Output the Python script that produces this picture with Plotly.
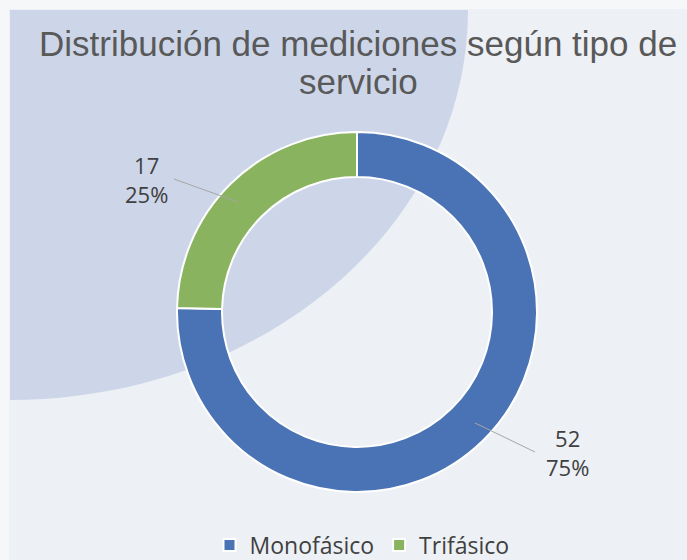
import plotly.graph_objects as go

# ---- data ----
categories = ["Monofásico", "Trifásico"]
values = [52, 17]
colors = ["#4a73b6", "#89b35e"]
title_lines = ["Distribución de mediciones según tipo de", "servicio"]

W, H = 687, 560


def px(x):
    return x / W


def py(y):
    return 1 - y / H


fig = go.Figure()

# donut centred at (357, 312) in screen pixels
cx, cy, r = 357, 312, 180
fig.add_trace(go.Pie(
    labels=categories,
    values=values,
    hole=0.75,
    sort=False,
    direction="clockwise",
    rotation=0,
    marker=dict(colors=colors, line=dict(color="#ffffff", width=2)),
    textinfo="none",
    hoverinfo="label+value+percent",
    domain=dict(x=[px(cx - r), px(cx + r)], y=[py(cy + r), py(cy - r)]),
))

# lighter strips along the top and left edges
shapes = [
    dict(type="rect", xref="paper", yref="paper", x0=0, x1=1, y0=py(9), y1=1,
         fillcolor="#f6f7f9", line=dict(width=0), layer="below"),
    dict(type="rect", xref="paper", yref="paper", x0=0, x1=px(9), y0=0, y1=1,
         fillcolor="#f6f7f9", line=dict(width=0), layer="below"),
]

# decorative quarter ellipse in the background
ex, ey, rx, ry, k = 10, 10, 458, 390, 0.5523
path = (
    f"M {px(ex)},{py(ey)} L {px(ex + rx)},{py(ey)} "
    f"C {px(ex + rx)},{py(ey + k * ry)} {px(ex + k * rx)},{py(ey + ry)} {px(ex)},{py(ey + ry)} Z"
)
shapes.append(dict(type="path", xref="paper", yref="paper", path=path,
                   fillcolor="#cdd6e8", line=dict(width=0), layer="below"))

# leader lines
leaders = [((475, 423), (535, 452)), ((238, 202), (174, 179))]
for (x0, y0), (x1, y1) in leaders:
    shapes.append(dict(type="line", xref="paper", yref="paper",
                       x0=px(x0), y0=py(y0), x1=px(x1), y1=py(y1),
                       line=dict(color="#a6a6a6", width=1)))

total = sum(values)
label_pos = [(567, 452), (146, 180)]
annotations = []
for v, (lx, ly) in zip(values, label_pos):
    annotations.append(dict(
        x=px(lx), y=py(ly), xref="paper", yref="paper",
        text=f"{v}<br>{round(100 * v / total)}%",
        showarrow=False, xanchor="center", yanchor="middle",
        font=dict(family="Open Sans", size=22, color="#404040"),
    ))

for t, yy in zip(title_lines, [44, 81]):
    annotations.append(dict(
        x=px(358), y=py(yy), xref="paper", yref="paper", text=t,
        showarrow=False, xanchor="center", yanchor="middle",
        font=dict(family="Liberation Sans", size=35, color="#595959"),
    ))

fig.update_layout(
    width=W, height=H,
    margin=dict(l=0, r=0, t=0, b=0, autoexpand=False),
    paper_bgcolor="#edf0f5",
    plot_bgcolor="#edf0f5",
    shapes=shapes,
    annotations=annotations,
    showlegend=True,
    legend=dict(orientation="h", xref="container", yref="container",
                x=px(362), xanchor="center", y=py(545), yanchor="middle",
                font=dict(family="Open Sans", size=23, color="#404040"),
                bgcolor="rgba(0,0,0,0)"),
)

fig.write_html("out.html", config={"displayModeBar": False},
               post_script="document.body.style.margin='0px';document.body.style.overflow='hidden';")
